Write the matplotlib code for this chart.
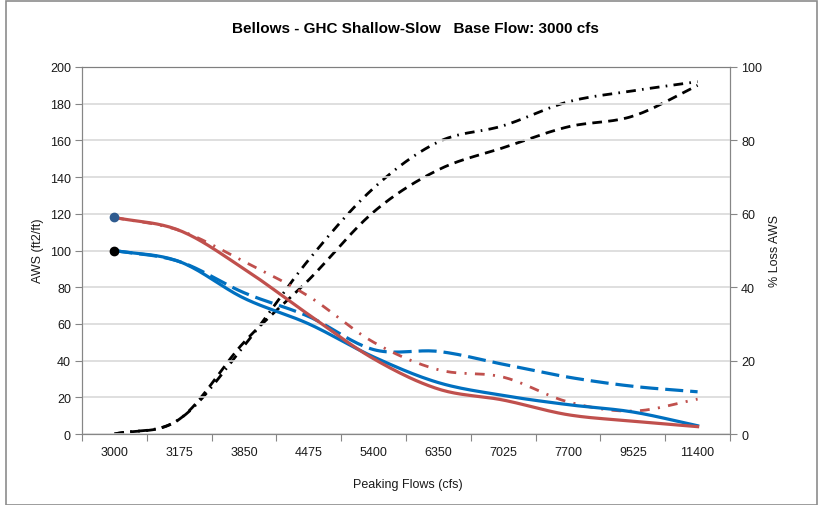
import numpy as np
import matplotlib
matplotlib.use("Agg")
import matplotlib.pyplot as plt
from matplotlib.patches import Rectangle

plt.rcParams['font.family'] = ['Liberation Sans', 'DejaVu Sans']
plt.rcParams['lines.scale_dashes'] = False

# ---------------- data ----------------
categories = ["3000", "3175", "3850", "4475", "5400", "6350", "7025", "7700", "9525", "11400"]

aws_blue_solid = [100, 94, 74, 60, 42, 28, 21, 16, 12, 4.5]
aws_red_solid = [118, 111, 90, 65, 41, 24.5, 18.5, 10.5, 7, 4]
aws_blue_dashed = [100, 94, 77, 64, 46, 45, 38, 31, 26, 23]
aws_red_dashdot = [118, 111, 94, 75, 50, 35, 31, 17.5, 12.5, 19]

loss_dashed = [0, 4, 25, 42, 60.5, 72, 78, 83.7, 86.6, 95]
loss_dashdot = [0, 4, 24, 47.5, 67, 79.6, 84, 90.5, 93.5, 96]

base_black = 100
base_blue = 118

left_ticks = [0, 20, 40, 60, 80, 100, 120, 140, 160, 180, 200]
right_ticks = [0, 20, 40, 60, 80, 100]


def smooth(y, n=20):
    """Catmull-Rom smoothing through the points (like Excel smoothed lines)."""
    y = np.asarray(y, float)
    x = np.arange(len(y), dtype=float)
    P = np.column_stack([x, y])
    P = np.vstack([P[0] - (P[1] - P[0]), P, P[-1] + (P[-1] - P[-2])])
    out = []
    for i in range(1, len(P) - 2):
        p0, p1, p2, p3 = P[i - 1], P[i], P[i + 1], P[i + 2]
        t = np.linspace(0, 1, n, endpoint=False)[:, None]
        c = 0.5 * ((2 * p1) + (-p0 + p2) * t + (2 * p0 - 5 * p1 + 4 * p2 - p3) * t ** 2
                   + (-p0 + 3 * p1 - 3 * p2 + p3) * t ** 3)
        out.append(c)
    out.append(P[-2][None, :])
    c = np.vstack(out)
    return c[:, 0], c[:, 1]


W, H = 818, 506
fig = plt.figure(figsize=(W / 100, H / 100), dpi=100)
fig.patches.append(Rectangle((6 / W, 0), (W - 7) / W, (H - 1.5) / H, transform=fig.transFigure,
                             fill=False, edgecolor='#8c8c8c', linewidth=1.2))

L, R, T, B = 82, 730, 68, 435
ax = fig.add_axes([L / W, 1 - B / H, (R - L) / W, (B - T) / H])
ax2 = ax.twinx()

grid_c = '#d9d9d9'
spine_c = '#868686'
fs = 9

# left axis
ax.set_ylim(0, 200)
ax.set_yticks(left_ticks)
ax.yaxis.grid(True, color=grid_c, linewidth=1.2)
ax.set_axisbelow(True)
n = len(categories)
ax.set_xlim(-0.5, n - 0.5)
ax.set_xticks(np.arange(n + 1) - 0.5)
ax.set_xticklabels([])
ax.set_xticks(np.arange(n), minor=True)
ax.set_xticklabels(categories, minor=True)
ax.tick_params(axis='x', which='major', length=5, color=spine_c, direction='out')
ax.tick_params(axis='x', which='minor', length=0, pad=9, labelsize=fs, labelcolor='#1a1a1a')
ax.tick_params(axis='y', length=5, color=spine_c, direction='out', labelsize=fs, labelcolor='#1a1a1a', pad=3)

for s in ['left', 'bottom', 'right', 'top']:
    ax.spines[s].set_color(spine_c)
    ax2.spines[s].set_color(spine_c)
ax.spines['top'].set_color('#7f7f7f')

ax2.set_ylim(0, 100)
ax2.set_yticks(right_ticks)
ax2.tick_params(axis='y', length=5, color=spine_c, direction='out', labelsize=fs, labelcolor='#1a1a1a', pad=3)

lw = 2.0
blue = '#0070C0'
red = '#C0504D'

x, y = smooth(loss_dashed)
ax2.plot(x, y, color='black', lw=lw, linestyle=(0, (7, 4.5)), zorder=3)
x, y = smooth(loss_dashdot)
ax2.plot(x, y, color='black', lw=lw, linestyle=(0, (7, 4.5, 1.2, 4.5)), zorder=3)

ax.set_zorder(ax2.get_zorder() + 1)
ax.patch.set_visible(False)

x, y = smooth(aws_blue_dashed)
ax.plot(x, y, color=blue, lw=2.3, linestyle=(0, (13, 5)), zorder=3)
x, y = smooth(aws_red_dashdot)
ax.plot(x, y, color=red, lw=2.0, linestyle=(0, (7, 6, 1.5, 6)), zorder=3)
x, y = smooth(aws_blue_solid)
ax.plot(x, y, color=blue, lw=2.3, zorder=4)
x, y = smooth(aws_red_solid)
ax.plot(x, y, color=red, lw=2.3, zorder=4)

ax.plot([0], [base_black], 'o', color='black', markersize=6, zorder=5)
ax.plot([0], [base_blue], 'o', color='#2f5b8f', markersize=6, zorder=5)

fig.text(415 / W, 1 - 29 / H, "Bellows - GHC Shallow-Slow   Base Flow: 3000 cfs",
         ha='center', va='center', fontsize=11, fontweight='bold', color='black')
fig.text(38 / W, 1 - 251 / H, "AWS (ft2/ft)", rotation=90, ha='center', va='center',
         fontsize=fs, color='#1a1a1a')
fig.text(775 / W, 1 - 251 / H, "% Loss AWS", rotation=90, ha='center', va='center',
         fontsize=fs, color='#1a1a1a')
fig.text(408 / W, 1 - 485 / H, "Peaking Flows (cfs)", ha='center', va='center',
         fontsize=fs, color='#1a1a1a')

fig.savefig("out.png", dpi=100)
